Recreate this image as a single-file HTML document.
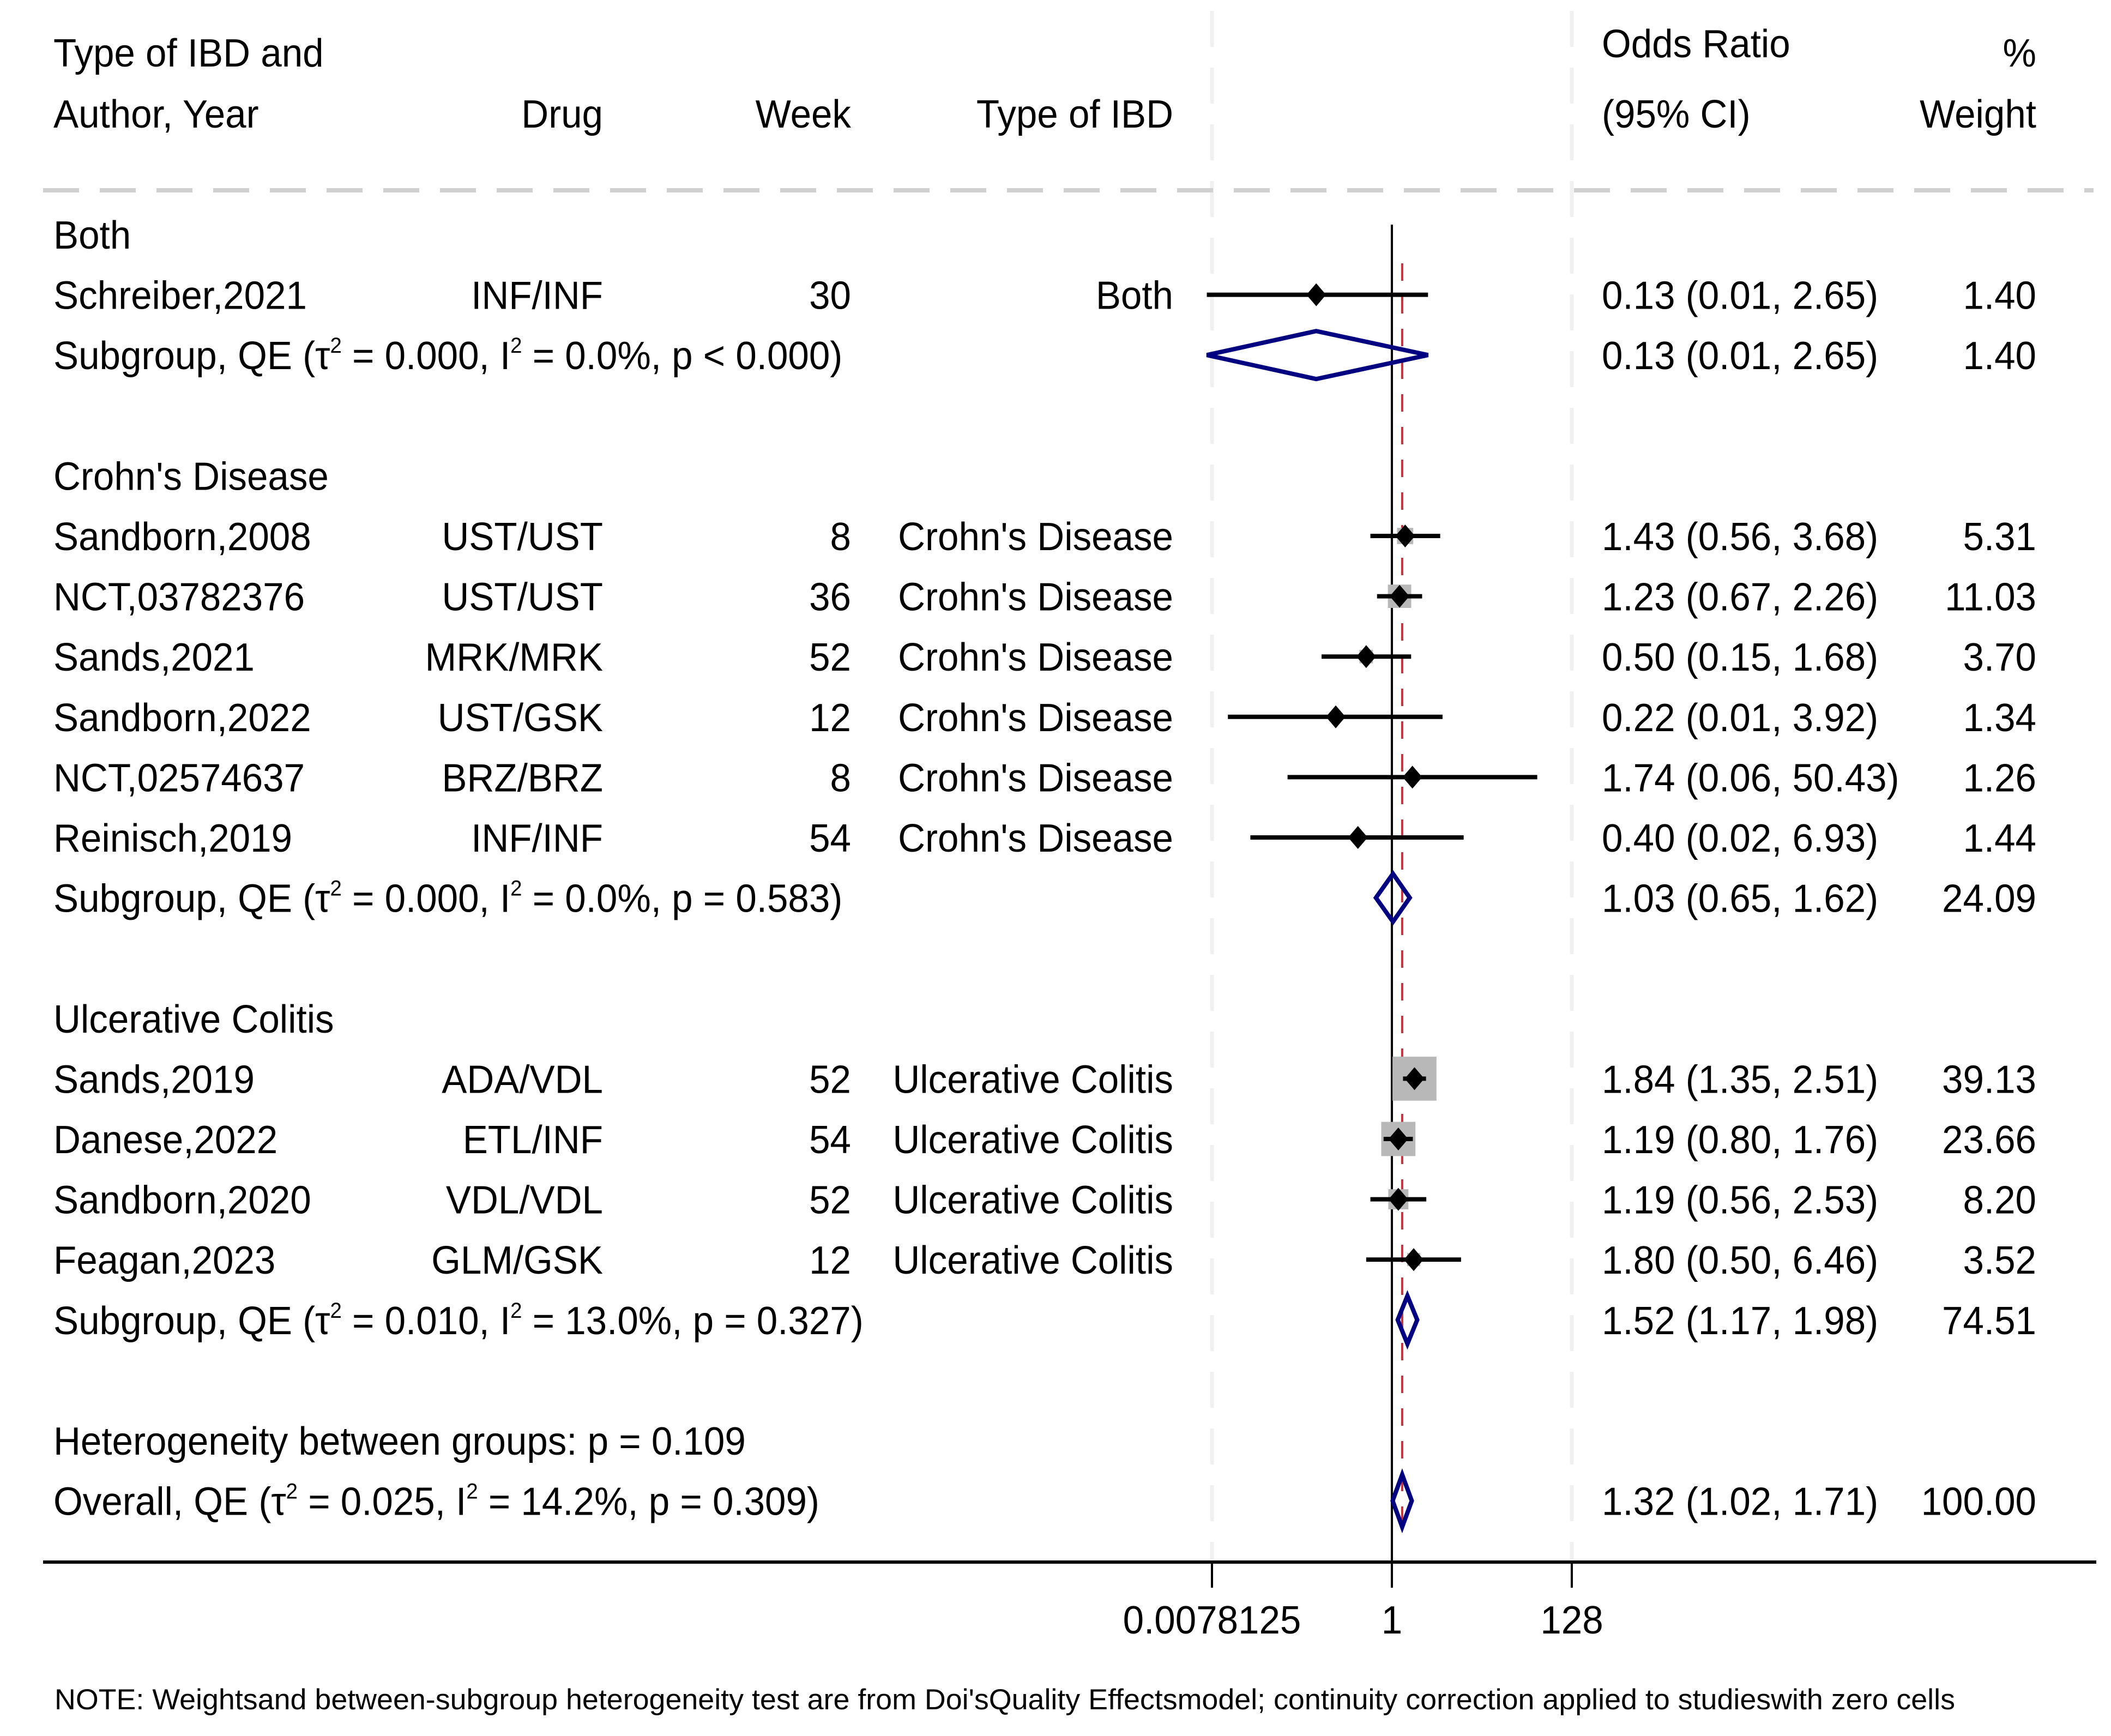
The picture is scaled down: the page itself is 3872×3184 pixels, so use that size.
<!DOCTYPE html>
<html><head><meta charset="utf-8">
<style>
html,body{margin:0;padding:0;background:#fff;}
svg{display:block;}
text{font-family:"Liberation Sans",Arial,sans-serif;fill:#000;}
</style></head>
<body>
<svg id="chart" width="3872" height="3184" viewBox="0 0 3872 3184" xmlns="http://www.w3.org/2000/svg">
<g id="grid"></g>
<g id="marks"></g>
<g id="txt" transform="scale(0.96,1)"></g>
</svg>
<script>
// ---- data ----
const studyNames = ["Schreiber,2021","Sandborn,2008","NCT,03782376","Sands,2021","Sandborn,2022","NCT,02574637","Reinisch,2019","Sands,2019","Danese,2022","Sandborn,2020","Feagan,2023"];
const studyDrugs = ["INF/INF","UST/UST","UST/UST","MRK/MRK","UST/GSK","BRZ/BRZ","INF/INF","ADA/VDL","ETL/INF","VDL/VDL","GLM/GSK"];
const studyWeeks = ["30","8","36","52","12","8","54","52","54","52","12"];
const studyTypes = ["Both","Crohn's Disease","Crohn's Disease","Crohn's Disease","Crohn's Disease","Crohn's Disease","Crohn's Disease","Ulcerative Colitis","Ulcerative Colitis","Ulcerative Colitis","Ulcerative Colitis"];
const studyRows = [1,5,6,7,8,9,10,14,15,16,17];
const studyOR = [0.13,1.43,1.23,0.50,0.22,1.74,0.40,1.84,1.19,1.19,1.80];
const studyLow = [0.0068,0.56,0.67,0.15,0.012,0.06,0.022,1.35,0.80,0.56,0.50];
const studyHigh = [2.65,3.68,2.26,1.68,3.92,50.43,6.93,2.51,1.76,2.53,6.46];
const studyCI = ["0.13 (0.01, 2.65)","1.43 (0.56, 3.68)","1.23 (0.67, 2.26)","0.50 (0.15, 1.68)","0.22 (0.01, 3.92)","1.74 (0.06, 50.43)","0.40 (0.02, 6.93)","1.84 (1.35, 2.51)","1.19 (0.80, 1.76)","1.19 (0.56, 2.53)","1.80 (0.50, 6.46)"];
const studyWeight = [1.40,5.31,11.03,3.70,1.34,1.26,1.44,39.13,23.66,8.20,3.52];

const poolRows = [2,11,18,21];
const poolOR = [0.13,1.03,1.52,1.32];
const poolLow = [0.0068,0.65,1.17,1.02];
const poolHigh = [2.65,1.62,1.98,1.71];
const poolCI = ["0.13 (0.01, 2.65)","1.03 (0.65, 1.62)","1.52 (1.17, 1.98)","1.32 (1.02, 1.71)"];
const poolWeight = ["1.40","24.09","74.51","100.00"];
const poolLabelPre = ["Subgroup, QE (","Subgroup, QE (","Subgroup, QE (","Overall, QE ("];
const poolTau = ["0.000","0.000","0.010","0.025"];
const poolI2 = ["0.0%","0.0%","13.0%","14.2%"];
const poolP = ["p < 0.000","p = 0.583","p = 0.327","p = 0.309"];

const headerRows = [0,4,13,20];
const headerLabels = ["Both","Crohn's Disease","Ulcerative Colitis","Heterogeneity between groups: p = 0.109"];

const tickValues = [0.0078125,1,128];
const tickLabels = ["0.0078125","1","128"];
const overallOR = 1.32;

// ---- scales ----
const X1 = 2553, PXLOG = 47.14;
function xs(v){ return X1 + Math.log2(v)*PXLOG; }
function ys(i){ return 430 + i*110.6; }
const SX = 0.96;
const NS = "http://www.w3.org/2000/svg";
function mk(parent, tag, attrs){ const e=document.createElementNS(NS,tag); for(const k in attrs) e.setAttribute(k,attrs[k]); parent.appendChild(e); return e; }
const grid=document.getElementById('grid'), marks=document.getElementById('marks'), txt=document.getElementById('txt');
function T(x,y,s,anchor,size){ const e=mk(txt,'text',{x:x/SX,y:y,'font-size':size||72,'text-anchor':anchor||'start'}); e.textContent=s; return e; }

const COL_DRUG=1106, COL_WEEK=1561, COL_TYPE=2152, COL_OR=2938, COL_W=3735;

// gridlines at outer ticks
[tickValues[0],tickValues[2]].forEach(v=>{
  const l=mk(grid,'line',{x1:xs(v),x2:xs(v),y1:20,y2:2860,stroke:'#f0f0f0','stroke-width':7,'stroke-dasharray':'66 38'});
  
  
});
let hl=mk(grid,'line',{x1:79,x2:3840,y1:349,y2:349,stroke:'#d0d0d0','stroke-width':8,'stroke-dasharray':'66 38'});



// null line and overall line
let nl=mk(marks,'line',{x1:xs(1),x2:xs(1),y1:412,y2:2865,stroke:'#000','stroke-width':4});


let ol=mk(marks,'line',{x1:xs(overallOR),x2:xs(overallOR),y1:483,y2:2810,stroke:'#c0353f','stroke-width':4,'stroke-dasharray':'32 28'});



// studies
studyOR.forEach((v,i)=>{
  const y=ys(studyRows[i]);
  const s=12.9*Math.sqrt(studyWeight[i]);
  const b=mk(marks,'rect',{x:xs(v)-s/2,y:y-s/2,width:s,height:s,fill:'#b8b8b8'});
  
  
  const l=mk(marks,'line',{x1:xs(studyLow[i]),x2:xs(studyHigh[i]),y1:y,y2:y,stroke:'#000','stroke-width':8});
  
  
  const cx=xs(v);
  const d=mk(marks,'polygon',{points:`${cx},${y-21} ${cx+18},${y} ${cx},${y+21} ${cx-18},${y}`,fill:'#000'});
  
  
  let t;
  t=T(98,y+26,studyNames[i]);  
  t=T(COL_DRUG,y+26,studyDrugs[i],'end');  
  t=T(COL_WEEK,y+26,studyWeeks[i],'end');  
  t=T(COL_TYPE,y+26,studyTypes[i],'end');  
  t=T(COL_OR,y+26,studyCI[i]);  
  t=T(COL_W,y+26,studyWeight[i].toFixed(2),'end');  
});

// pooled diamonds
poolOR.forEach((v,i)=>{
  const y=ys(poolRows[i]);
  const h=i===3?48:44;
  const d=mk(marks,'polygon',{points:`${xs(poolLow[i])},${y} ${xs(v)},${y-h} ${xs(poolHigh[i])},${y} ${xs(v)},${y+h}`,fill:'none',stroke:'#000080','stroke-width':8,'stroke-linejoin':'miter'});
  
  
  const t=T(98,y+26,'');
  
  
  const parts=[[poolLabelPre[i]+'τ',0],['2',-1],[' = '+poolTau[i]+', I',1],['2',-1],[' = '+poolI2[i]+', '+poolP[i]+')',1]];
  let prev=0;
  parts.forEach(p=>{
    const ts=document.createElementNS(NS,'tspan');
    if(p[1]===-1){ ts.setAttribute('dy',-30); ts.setAttribute('font-size',40); prev=-1; }
    else if(prev===-1){ ts.setAttribute('dy',30); prev=0; }
    ts.textContent=p[0]; t.appendChild(ts);
  });
  let c=T(COL_OR,y+26,poolCI[i]);  
  c=T(COL_W,y+26,poolWeight[i],'end');  
});

// group headers
headerLabels.forEach((s,i)=>{
  const t=T(98,ys(headerRows[i])+26,s);
  
  
});

// column headers
[["Type of IBD and",98,122,'start'],["Author, Year",98,234,'start'],["Drug",COL_DRUG,234,'end'],["Week",COL_WEEK,234,'end'],["Type of IBD",COL_TYPE,234,'end'],["Odds Ratio",COL_OR,105,'start'],["(95% CI)",COL_OR,234,'start'],["%",COL_W,122,'end'],["Weight",COL_W,234,'end']].forEach(h=>{
  const t=T(h[1],h[2],h[0],h[3]);
  
  
});

// x axis
let ax=mk(marks,'line',{x1:79,x2:3845,y1:2865,y2:2865,stroke:'#000','stroke-width':6});


tickValues.forEach((v,i)=>{
  const tk=mk(marks,'line',{x1:xs(v),x2:xs(v),y1:2865,y2:2912,stroke:'#000','stroke-width':4});
  
  
  const t=T(xs(v),2996,tickLabels[i],'middle');
  
  
});

// note
const note=mk(txt,'text',{x:100/SX,y:3135,'font-size':53,textLength:3486/SX,lengthAdjust:'spacingAndGlyphs'});
note.textContent="NOTE: Weightsand between-subgroup heterogeneity test are from Doi'sQuality Effectsmodel; continuity correction applied to studieswith zero cells";


</script>
</body></html>
